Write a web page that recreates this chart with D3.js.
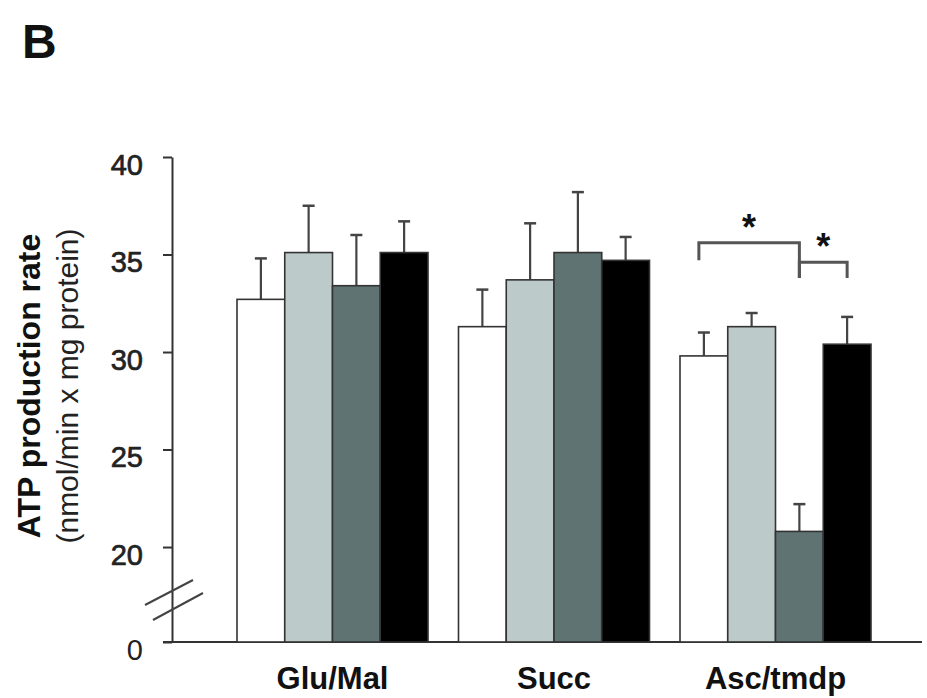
<!DOCTYPE html>
<html>
<head>
<meta charset="utf-8">
<script src="https://cdn.jsdelivr.net/npm/d3@7"></script>
<style>
  html, body { margin: 0; padding: 0; background: #fff; }
  svg { display: block; font-family: "Liberation Sans", Arial, Helvetica, sans-serif; }
</style>
</head>
<body>
<svg id="chart" width="927" height="698"></svg>
<script>
// Substrates on the x axis
const groups = ["Glu/Mal", "Succ", "Asc/tmdp"];

// Four conditions per substrate (mean ATP production rate)
const seriesNames = ["c1", "c2", "c3", "c4"];
const seriesColors = ["#ffffff", "#bccbc9", "#5f7372", "#000000"];
const meansC1 = [32.7, 31.3, 29.8];
const meansC2 = [35.1, 33.7, 31.3];
const meansC3 = [33.4, 35.1, 20.8];
const meansC4 = [35.1, 34.7, 30.4];

// Upper error bars (SEM)
const errC1 = [2.1, 1.9, 1.2];
const errC2 = [2.4, 2.9, 0.7];
const errC3 = [2.6, 3.1, 1.4];
const errC4 = [1.6, 1.2, 1.4];

// Y axis: broken axis, floor shown as "0"
const yFloor = 15.13;
const yTop = 40;
const yTicks = [20, 25, 30, 35, 40];
const floorLabel = "0";

// Significance brackets within Asc/tmdp (series indices), legs in data units
const comparisons = [
  { group: 2, from: 0, to: 2, level: 35.6, legs: [34.7, 33.8], label: "*" },
  { group: 2, from: 2, to: 3, level: 34.6, legs: [33.8, 33.8], label: "*" }
];

const allMeans = [meansC1, meansC2, meansC3, meansC4];
const allErr = [errC1, errC2, errC3, errC4];

const svg = d3.select("#chart");

const y = d3.scaleLinear().domain([yFloor, yTop]).range([642, 157]);
const x = d3.scaleBand().domain(groups).range([237, 871]).paddingInner(0.1377).paddingOuter(0);
const xs = d3.scaleBand().domain(seriesNames).range([0, x.bandwidth()]).padding(0);

// Panel letter
svg.append("text")
  .attr("x", 22).attr("y", 58)
  .attr("font-size", 48).attr("font-weight", "bold")
  .attr("fill", "#111")
  .text("B");

// X axis baseline
svg.append("line")
  .attr("x1", 163).attr("x2", 922)
  .attr("y1", y(yFloor)).attr("y2", y(yFloor))
  .attr("stroke", "#333").attr("stroke-width", 2);

// Bars
const rows = [];
groups.forEach((g, gi) => {
  seriesNames.forEach((s, si) => {
    rows.push({ g, gi, s, si, v: allMeans[si][gi], e: allErr[si][gi] });
  });
});

const barG = svg.append("g");
// Error bars (upper only)
barG.selectAll("line.err")
  .data(rows).join("line")
  .attr("class", "err")
  .attr("x1", d => x(d.g) + xs(d.s) + xs.bandwidth() / 2)
  .attr("x2", d => x(d.g) + xs(d.s) + xs.bandwidth() / 2)
  .attr("y1", d => y(d.v))
  .attr("y2", d => y(d.v + d.e))
  .attr("stroke", "#444").attr("stroke-width", 2.2);

barG.selectAll("line.cap")
  .data(rows).join("line")
  .attr("class", "cap")
  .attr("x1", d => x(d.g) + xs(d.s) + xs.bandwidth() / 2 - 6)
  .attr("x2", d => x(d.g) + xs(d.s) + xs.bandwidth() / 2 + 6)
  .attr("y1", d => y(d.v + d.e))
  .attr("y2", d => y(d.v + d.e))
  .attr("stroke", "#444").attr("stroke-width", 2.5);

barG.selectAll("rect")
  .data(rows).join("rect")
  .attr("x", d => x(d.g) + xs(d.s))
  .attr("width", xs.bandwidth())
  .attr("y", d => y(d.v))
  .attr("height", d => y(yFloor) - y(d.v))
  .attr("fill", d => seriesColors[d.si])
  .attr("stroke", "#333").attr("stroke-width", 1.6);

// Y axis
const yAxis = d3.axisLeft(y)
  .tickValues([yFloor].concat(yTicks))
  .tickFormat(d => d === yFloor ? floorLabel : d3.format("d")(d))
  .tickSizeInner(9).tickSizeOuter(0).tickPadding(20);

const yg = svg.append("g").attr("transform", "translate(172,0)").call(yAxis);
yg.select(".domain").attr("stroke", "#333").attr("stroke-width", 2);
yg.selectAll(".tick line").attr("stroke", "#333").attr("stroke-width", 2);
yg.selectAll(".tick text")
  .attr("font-size", 29).attr("fill", "#222")
  .attr("font-family", "Liberation Sans, Arial, sans-serif")
  .attr("stroke", "#222").attr("stroke-width", d => d === yFloor ? 0 : 0.7)
  .attr("dy", "0.6em");

// Axis break marks
const brk = svg.append("g").attr("stroke", "#444").attr("stroke-width", 2);
brk.append("line").attr("x1", 145).attr("y1", 605).attr("x2", 193).attr("y2", 580);
brk.append("line").attr("x1", 153).attr("y1", 620).attr("x2", 203).attr("y2", 593);

// X axis labels
const xAxis = d3.axisBottom(x).tickSize(0).tickPadding(25);
const xg = svg.append("g").attr("transform", `translate(0,${y(yFloor)})`).call(xAxis);
xg.select(".domain").remove();
xg.selectAll(".tick text")
  .attr("font-size", 31).attr("font-weight", "bold").attr("fill", "#111")
  .attr("font-family", "Liberation Sans, Arial, sans-serif");

// Y axis title
const yTitle = svg.append("g").attr("transform", "translate(0,386)");
yTitle.append("text")
  .attr("transform", "translate(40,0) rotate(-90)")
  .attr("text-anchor", "middle")
  .attr("font-size", 32).attr("font-weight", "bold").attr("fill", "#111")
  .text("ATP production rate");
yTitle.append("text")
  .attr("transform", "translate(78,0) rotate(-90)")
  .attr("text-anchor", "middle")
  .attr("font-size", 30).attr("fill", "#222")
  .text("(nmol/min x mg protein)");

// Significance brackets
const cx = (gi, si) => x(groups[gi]) + xs(seriesNames[si]) + xs.bandwidth() / 2;
const sig = svg.append("g");
comparisons.forEach(c => {
  const x1 = cx(c.group, c.from) - (c.from === 0 ? 5 : 0);
  const x2 = cx(c.group, c.to);
  sig.append("path")
    .attr("d", `M${x1},${y(c.legs[0])}V${y(c.level)}H${x2}V${y(c.legs[1])}`)
    .attr("fill", "none").attr("stroke", "#555").attr("stroke-width", 3);
  sig.append("text")
    .attr("x", (x1 + x2) / 2)
    .attr("y", y(c.level) - 3)
    .attr("text-anchor", "middle")
    .attr("font-size", 36).attr("font-weight", "bold").attr("fill", "#111")
    .text(c.label);
});
</script>
</body>
</html>
